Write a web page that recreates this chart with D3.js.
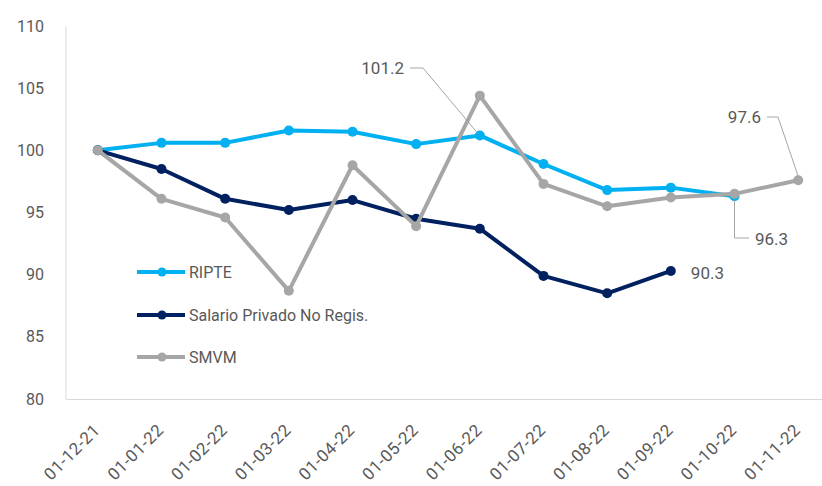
<!DOCTYPE html>
<html>
<head>
<meta charset="utf-8">
<script src="https://cdn.jsdelivr.net/npm/d3@7"></script>
<style>
  body { margin: 0; background: #fff; }
  text { font-family: Roboto, "Liberation Sans", sans-serif; fill: #595959; }
</style>
</head>
<body>
<div class="chart"></div>
<script>
// data
var dates = ["01-12-21","01-01-22","01-02-22","01-03-22","01-04-22","01-05-22",
             "01-06-22","01-07-22","01-08-22","01-09-22","01-10-22","01-11-22"];
var ripte = [100, 100.6, 100.6, 101.6, 101.5, 100.5, 101.2, 98.9, 96.8, 97.0, 96.3, null];
var salarioNoReg = [100, 98.5, 96.1, 95.2, 96.0, 94.5, 93.7, 89.9, 88.5, 90.3, null, null];
var smvm = [100, 96.1, 94.6, 88.7, 98.8, 93.9, 104.4, 97.3, 95.5, 96.2, 96.5, 97.6];
var yTicks = [80, 85, 90, 95, 100, 105, 110];

var series = [
  {name: "RIPTE", values: ripte, color: "#00b0f0"},
  {name: "Salario Privado No Regis.", values: salarioNoReg, color: "#002060"},
  {name: "SMVM", values: smvm, color: "#a6a6a6"}
];

var W = 822, H = 486;
var svg = d3.select(".chart").append("svg")
  .attr("width", W).attr("height", H);

var x = d3.scaleBand().domain(dates).range([66, 830]);
var y = d3.scaleLinear().domain([80, 110]).range([399, 26]);
var cx = function(d) { return x(d) + x.bandwidth() / 2; };

// axes lines
svg.append("line").attr("x1", 66).attr("x2", 66).attr("y1", 26).attr("y2", 399)
  .attr("stroke", "#d9d9d9").attr("stroke-width", 1);
svg.append("line").attr("x1", 66).attr("x2", 830).attr("y1", 399.5).attr("y2", 399.5)
  .attr("stroke", "#d9d9d9").attr("stroke-width", 1);

// y tick labels
svg.selectAll(".ytick").data(yTicks).enter().append("text")
  .attr("x", 44).attr("y", function(d) { return y(d); })
  .attr("dy", "0.35em").attr("text-anchor", "end")
  .style("font-size", "16px").text(function(d) { return d; });

// x tick labels (rotated)
svg.selectAll(".xtick").data(dates).enter().append("text")
  .attr("transform", function(d) { return "translate(" + (cx(d) - 1) + ",427) rotate(-45)"; })
  .attr("text-anchor", "end").attr("dy", "0.35em")
  .style("font-size", "17px").style("letter-spacing", "0.5px").text(function(d) { return d; });

var line = d3.line()
  .defined(function(d) { return d.v != null; })
  .x(function(d) { return cx(d.date); })
  .y(function(d) { return y(d.v); });

series.forEach(function(s) {
  var pts = dates.map(function(d, i) { return {date: d, v: s.values[i]}; });
  var g = svg.append("g");
  g.append("path").datum(pts)
    .attr("d", line).attr("fill", "none")
    .attr("stroke", s.color).attr("stroke-width", 4)
    .attr("stroke-linejoin", "round");
  g.selectAll("circle").data(pts.filter(function(p) { return p.v != null; }))
    .enter().append("circle")
    .attr("cx", function(p) { return cx(p.date); })
    .attr("cy", function(p) { return y(p.v); })
    .attr("r", 5).attr("fill", s.color);
});

// legend
var legendY = [272, 315, 357];
series.forEach(function(s, i) {
  var g = svg.append("g").attr("transform", "translate(137," + legendY[i] + ")");
  g.append("line").attr("x1", 0).attr("x2", 48).attr("stroke", s.color).attr("stroke-width", 4);
  g.append("circle").attr("cx", 25).attr("r", 4.5).attr("fill", s.color);
  g.append("text").attr("x", 52).attr("dy", "0.35em")
    .style("font-size", "16px").text(s.name);
});

// data labels with leader lines
var leader = "#a6a6a6";
function label(txt, tx, ty, anchor, path) {
  svg.append("path").attr("d", path).attr("fill", "none")
    .attr("stroke", leader).attr("stroke-width", 1);
  svg.append("text").attr("x", tx).attr("y", ty).attr("dy", "0.35em")
    .attr("text-anchor", anchor).style("font-size", "17px").text(txt);
}
var p6x = cx(dates[6]), p6y = y(ripte[6]);
label("101.2", 404, 68, "end", "M410,68L423,68L" + (p6x - 2) + "," + (p6y - 2));
var p11x = cx(dates[11]), p11y = y(smvm[11]);
label("97.6", 761, 117, "end", "M767,117L778,117L" + p11x + "," + (p11y - 4));
var p10x = cx(dates[10]), p10y = y(ripte[10]);
label("96.3", 755, 239, "start", "M" + p10x + "," + (p10y + 4) + "L" + p10x + ",238L749,238");
var p9x = cx(dates[9]), p9y = y(salarioNoReg[9]);
label("90.3", p9x + 20, p9y + 2, "start", "M0,0");
</script>
</body>
</html>
